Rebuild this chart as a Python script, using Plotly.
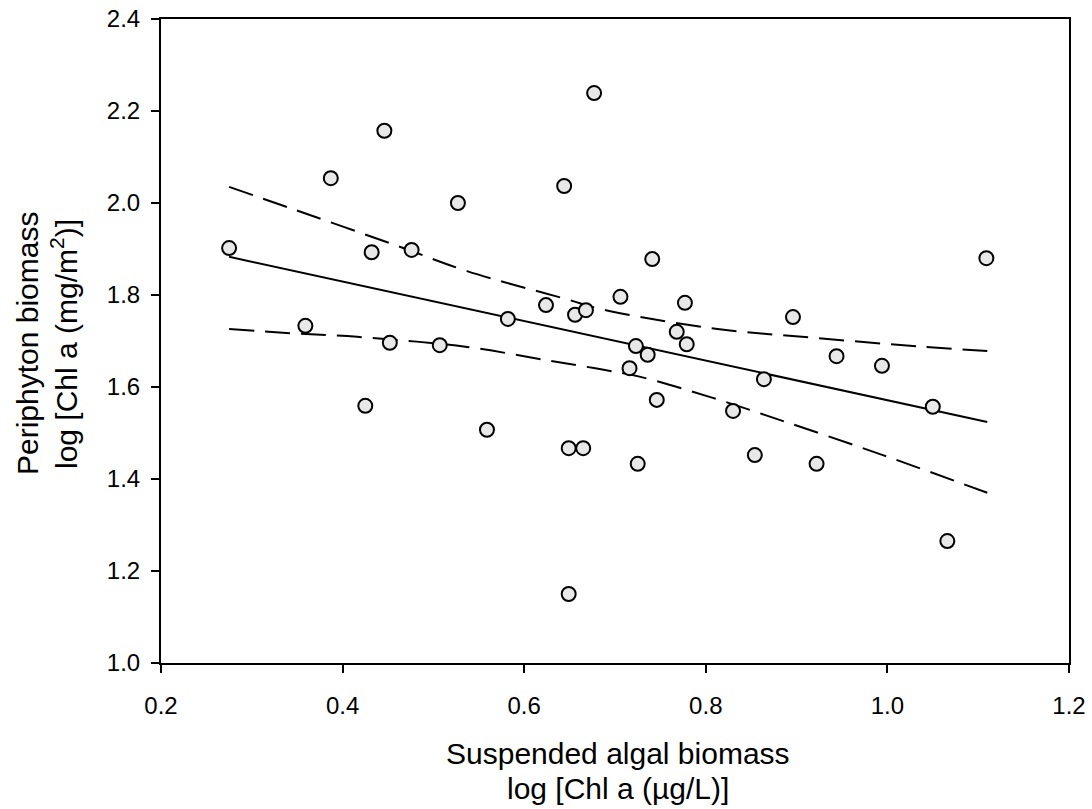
import plotly.graph_objects as go

# Scatter data (log Chl a)
susp_x = [0.275, 0.359, 0.387, 0.432, 0.476, 0.446, 0.425, 0.452, 0.507, 0.527,
          0.582, 0.559, 0.624, 0.644, 0.677, 0.656, 0.668, 0.649, 0.665, 0.649,
          0.741, 0.706, 0.777, 0.896, 1.109, 0.768, 0.779, 0.723, 0.736, 0.716,
          0.944, 0.994, 0.864, 1.050, 0.746, 0.830, 0.725, 0.854, 0.922, 1.066]
peri_y = [1.902, 1.733, 2.054, 1.893, 1.898, 2.157, 1.559, 1.696, 1.691, 2.000,
          1.748, 1.507, 1.778, 2.037, 2.239, 1.757, 1.767, 1.467, 1.467, 1.150,
          1.878, 1.796, 1.783, 1.752, 1.880, 1.720, 1.693, 1.689, 1.670, 1.641,
          1.667, 1.646, 1.617, 1.557, 1.572, 1.548, 1.433, 1.452, 1.433, 1.265]

# Regression line
fit_x = [0.275, 1.110]
fit_y = [1.883, 1.524]

# Confidence band (upper)
upper_x = [0.275, 0.342, 0.460, 0.537, 0.650, 0.683, 0.805, 0.918, 1.036, 1.110]
upper_y = [2.035, 1.989, 1.907, 1.852, 1.789, 1.770, 1.728, 1.707, 1.688, 1.678]

# Confidence band (lower)
lower_x = [0.275, 0.342, 0.416, 0.537, 0.628, 0.683, 0.728, 0.805, 0.882, 0.995, 1.110]
lower_y = [1.726, 1.717, 1.709, 1.687, 1.657, 1.639, 1.622, 1.578, 1.528, 1.452, 1.370]

x_ticks = [0.2, 0.4, 0.6, 0.8, 1.0, 1.2]
y_ticks = [1.0, 1.2, 1.4, 1.6, 1.8, 2.0, 2.2, 2.4]

x_title = ["Suspended algal biomass", "log [Chl a (µg/L)]"]
y_title = ["Periphyton biomass", "log [Chl a (mg/m<sup>2</sup>)]"]

FONT = "Liberation Sans, Arial, sans-serif"
TITLE_FONT = dict(size=30, family=FONT, color="black")

fig = go.Figure()
fig.add_trace(go.Scatter(x=fit_x, y=fit_y, mode="lines",
                         line=dict(color="black", width=2), showlegend=False))
fig.add_trace(go.Scatter(x=upper_x, y=upper_y, mode="lines", line_shape="spline",
                         line=dict(color="black", width=2, dash="25px,11px"), showlegend=False))
fig.add_trace(go.Scatter(x=lower_x, y=lower_y, mode="lines", line_shape="spline",
                         line=dict(color="black", width=2, dash="25px,11px"), showlegend=False))
fig.add_trace(go.Scatter(x=susp_x, y=peri_y, mode="markers",
                         marker=dict(size=14, color="#e8e8e8",
                                     line=dict(color="black", width=2)),
                         showlegend=False))

# Plot area: x from 161 to 1069 px, y from 19 to 663 px
PW, PH = 908.0, 644.0
annotations = [
    dict(text=x_title[0], xref="paper", yref="paper", x=(618 - 161) / PW, y=(663 - 753) / PH,
         xanchor="center", yanchor="middle", showarrow=False, font=TITLE_FONT),
    dict(text=x_title[1], xref="paper", yref="paper", x=(618 - 161) / PW, y=(663 - 788) / PH,
         xanchor="center", yanchor="middle", showarrow=False, font=TITLE_FONT),
    dict(text=y_title[0], xref="paper", yref="paper", x=(28 - 161) / PW, y=(663 - 344) / PH,
         xanchor="center", yanchor="middle", textangle=-90, showarrow=False, font=TITLE_FONT),
    dict(text=y_title[1], xref="paper", yref="paper", x=(64 - 161) / PW, y=(663 - 344) / PH,
         xanchor="center", yanchor="middle", textangle=-90, showarrow=False, font=TITLE_FONT),
]

fig.update_layout(
    width=1092, height=809,
    margin=dict(l=161, r=23, t=19, b=146, autoexpand=False),
    paper_bgcolor="white", plot_bgcolor="white",
    font=dict(family=FONT, size=24, color="black"),
    annotations=annotations,
    xaxis=dict(range=[0.2, 1.2], tickvals=x_ticks, ticktext=[f"{v:.1f}" for v in x_ticks],
               tickfont=dict(size=24, family=FONT, color="black"),
               showline=True, linecolor="black", linewidth=2, mirror=True,
               ticks="outside", ticklen=8, tickwidth=2, tickcolor="black",
               ticklabelstandoff=12, automargin=False,
               showgrid=False, zeroline=False),
    yaxis=dict(range=[1.0, 2.4], tickvals=y_ticks, ticktext=[f"{v:.1f}" for v in y_ticks],
               tickfont=dict(size=24, family=FONT, color="black"),
               showline=True, linecolor="black", linewidth=2, mirror=True,
               ticks="outside", ticklen=8, tickwidth=2, tickcolor="black",
               ticklabelstandoff=6, automargin=False,
               showgrid=False, zeroline=False),
)

fig.write_html("out.html")
